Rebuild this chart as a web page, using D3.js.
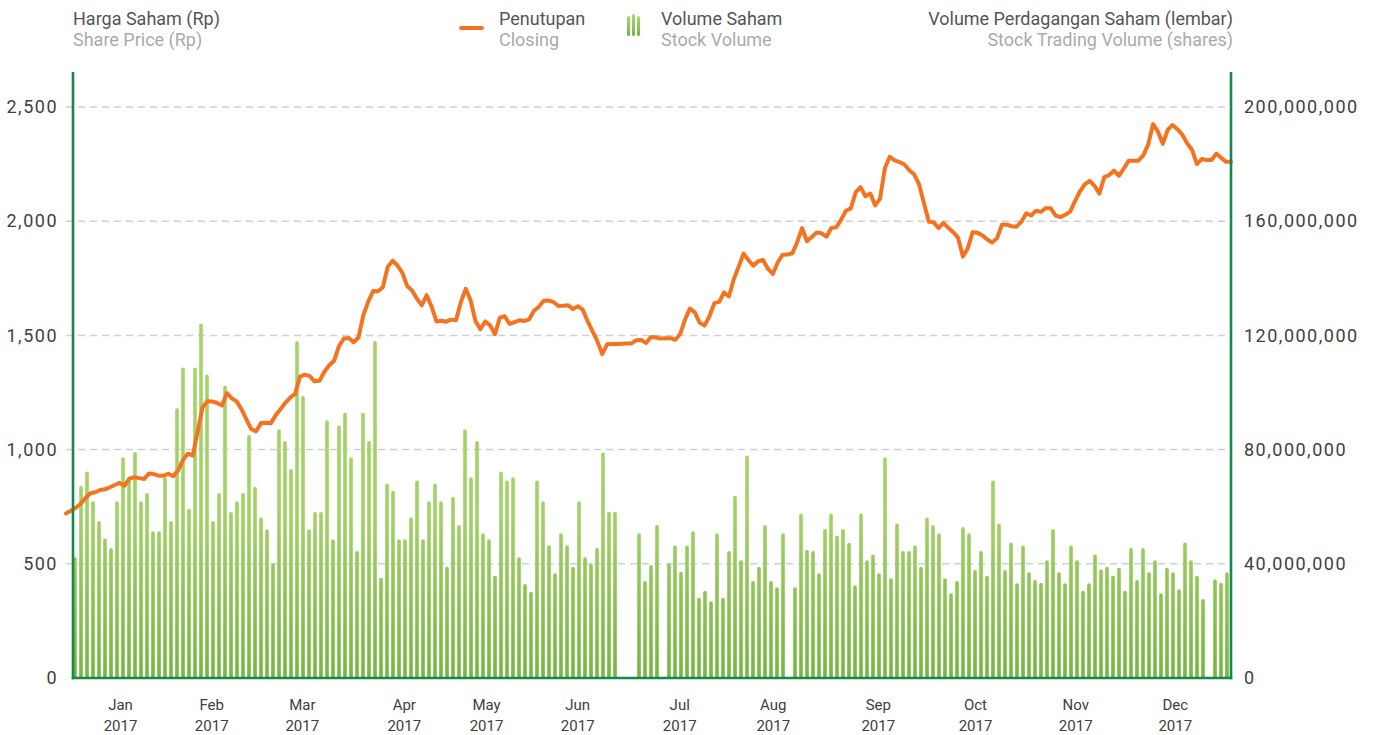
<!DOCTYPE html>
<html><head><meta charset="utf-8">
<script src="https://cdn.jsdelivr.net/npm/d3@7/dist/d3.min.js"></script>
<style>
body{margin:0;background:#fff;}
text{font-family:Roboto,"DejaVu Sans",sans-serif;}
</style>
</head><body>
<svg id="chart" width="1374" height="735"></svg>
<script>
// ---------- DATA ----------
const months = ["Jan","Feb","Mar","Apr","May","Jun","Jul","Aug","Sep","Oct","Nov","Dec"];
const yearLabel = "2017";
// position of each month label, in volume-bar slot units
const monthTickSlot = [7.5,22.7,37.8,54.8,68.5,83.7,100.7,116.3,133.8,150,166.7,183.3];
const priceTicks = [0,500,1000,1500,2000,2500];
const volumeTicks = [0,40000000,80000000,120000000,160000000,200000000];

// Stock volume (millions of shares); null = no trading
const volumeM = [
42.3,67.3,72.3,61.9,55,48.9,45.5,61.9,77.3,70.4,
79.2,61.9,64.8,51.4,51.4,70.4,55,94.5,108.8,59.3,
108.8,124.2,106.3,55,64.8,102.4,58.1,61.9,64.8,85.1,
67,56.2,52.1,40,87.1,83,73.2,118,98.8,52.1,
58.1,58.1,90.3,48.6,88.4,92.9,77.3,44.5,92.9,83,
118,35.1,68.1,65.6,48.6,48.6,56.2,69.2,48.6,61.9,
68.1,61.9,39,63.5,53.6,87.1,70.3,83,50.7,48.6,
35.8,72.3,69.2,70.3,42.3,32.9,30.2,69.2,61.9,46.5,
36.7,50.7,46.5,39,61.9,42.3,40.2,45.5,79,58.2,
58.2,null,null,null,50.7,34,39.6,53.6,null,40.2,
46.4,37.2,46.4,51.4,28.1,30.6,26.9,50.7,28.1,44.5,
63.8,41.2,77.9,34,39,53.6,34,31.8,50.7,null,
31.8,57.6,44.9,44.5,36.7,52.2,57.6,49.9,52.2,47.4,
32.5,57.6,41.2,43.3,36.7,77.3,34.9,54.1,44.5,44.5,
46.4,39,56.2,53.6,50.7,34.9,29.7,34,52.9,50.7,
37.8,44.5,35.8,69.2,54.1,37.8,47.5,33.2,46.4,37,
34.3,33.4,41.2,52.2,37,33.2,46.4,41.2,30.6,33.2,
43.3,38,39,35.8,38.6,30.6,45.5,34.3,45.5,37,
41.2,29.7,38.6,37,31.1,47.5,41.2,35.8,27.7,null,
34.6,33.4,37
];

// Closing price (Rp), daily
const closingPrice = [
720,732,745,763,788,809,813,823,826,835,
845,854,842,873,879,875,871,895,893,886,
886,894,884,909,955,982,974,1078,1184,1212,
1211,1204,1193,1247,1225,1211,1177,1132,1090,1080,
1116,1118,1115,1150,1177,1205,1228,1244,1320,1328,
1322,1299,1301,1341,1369,1389,1453,1486,1489,1470,
1491,1589,1648,1694,1693,1711,1800,1827,1806,1774,
1716,1697,1660,1632,1676,1626,1561,1564,1560,1569,
1566,1645,1704,1654,1563,1527,1561,1544,1505,1578,
1584,1550,1558,1566,1563,1570,1608,1625,1652,1653,
1646,1629,1630,1632,1615,1628,1613,1563,1519,1475,
1418,1461,1462,1462,1463,1464,1465,1479,1480,1467,
1493,1491,1486,1487,1488,1481,1506,1570,1617,1601,
1555,1543,1584,1641,1647,1688,1670,1747,1801,1858,
1830,1805,1825,1830,1792,1769,1819,1853,1854,1859,
1908,1970,1912,1931,1951,1947,1932,1970,1973,2006,
2046,2056,2126,2149,2109,2121,2069,2099,2233,2282,
2266,2259,2248,2223,2205,2162,2080,1998,1995,1970,
1993,1971,1952,1928,1845,1881,1952,1949,1938,1920,
1907,1925,1985,1985,1978,1976,1998,2035,2025,2046,
2041,2057,2057,2025,2018,2028,2042,2088,2130,2161,
2177,2155,2121,2193,2202,2221,2199,2230,2265,2265,
2265,2288,2335,2425,2393,2339,2400,2421,2403,2379,
2341,2313,2250,2272,2268,2268,2296,2277,2260,2260
];

// ---------- CHART ----------
const svg = d3.select("#chart");
const L = 73, R = 1231, T = 72, B = 678;
const green = "#14894b", orange = "#f47321";

const yPrice = d3.scaleLinear().domain([0,2500]).range([B,107]);
const yVol = d3.scaleLinear().domain([0,200000000]).range([B,107]);
const xSlot = d3.scaleLinear().domain([0, volumeM.length-1]).range([75, 1227]);
const xDay = d3.scaleLinear().domain([0, closingPrice.length-1]).range([66, 1231]);

const defs = svg.append("defs");
const grad = defs.append("linearGradient").attr("id","barGrad")
  .attr("gradientUnits","userSpaceOnUse").attr("x1",0).attr("x2",0).attr("y1",107).attr("y2",B);
grad.append("stop").attr("offset","0%").attr("stop-color","#a9d670");
grad.append("stop").attr("offset","72%").attr("stop-color","#a2d165");
grad.append("stop").attr("offset","100%").attr("stop-color","#76b641");
defs.append("clipPath").attr("id","plotClip").append("rect")
  .attr("x",0).attr("y",0).attr("width",1374).attr("height",B);

// grid lines
svg.append("g").selectAll("line").data(priceTicks.filter(d=>d>0)).join("line")
  .attr("x1",66).attr("x2",R).attr("y1",d=>yPrice(d)).attr("y2",d=>yPrice(d))
  .attr("stroke","#cfcfcf").attr("stroke-width",1.5).attr("stroke-dasharray","7,5");

// volume bars
const bw = 3.6;
svg.append("g").attr("clip-path","url(#plotClip)")
  .selectAll("rect").data(volumeM.map((v,i)=>({v,i})).filter(d=>d.v!==null)).join("rect")
  .attr("x",d=>xSlot(d.i)-bw/2).attr("width",bw)
  .attr("y",d=>yVol(d.v*1e6)).attr("height",d=>B+4-yVol(d.v*1e6))
  .attr("rx",bw/2).attr("fill","url(#barGrad)");

// closing line
svg.append("path").datum(closingPrice)
  .attr("fill","none").attr("stroke",orange).attr("stroke-width",4)
  .attr("stroke-linejoin","round").attr("stroke-linecap","round")
  .attr("d", d3.line().x((d,i)=>xDay(i)).y(d=>yPrice(d)));

// axis lines
svg.append("line").attr("x1",L).attr("x2",L).attr("y1",T).attr("y2",B+1.2).attr("stroke",green).attr("stroke-width",2.6);
svg.append("line").attr("x1",R).attr("x2",R).attr("y1",T).attr("y2",B+1.2).attr("stroke",green).attr("stroke-width",2.6);
svg.append("line").attr("x1",L-1.3).attr("x2",R+1.3).attr("y1",B).attr("y2",B).attr("stroke",green).attr("stroke-width",2.6);

// left axis labels
const axL = svg.append("g").attr("transform",`translate(58,0)`)
  .call(d3.axisLeft(yPrice).tickValues(priceTicks).tickSize(0).tickPadding(0).tickFormat(d3.format(",")));
axL.select(".domain").remove();
axL.selectAll("text").attr("fill","#404040").attr("font-size",18).attr("letter-spacing",1.5)
  .attr("font-family","Roboto, sans-serif");

// right axis labels
const axR = svg.append("g").attr("transform",`translate(1244,0)`)
  .call(d3.axisRight(yVol).tickValues(volumeTicks).tickSize(0).tickPadding(0).tickFormat(d3.format(",")));
axR.select(".domain").remove();
axR.selectAll("text").attr("fill","#404040").attr("font-size",18).attr("letter-spacing",1.5)
  .attr("font-family","Roboto, sans-serif");

// bottom month labels
const axB = svg.append("g").attr("transform",`translate(0,${B})`)
  .call(d3.axisBottom(xSlot).tickValues(monthTickSlot).tickSize(0).tickPadding(0).tickFormat((d,i)=>months[i]));
axB.select(".domain").remove();
axB.selectAll("text").attr("fill","#404040").attr("font-size",15).attr("font-family","Roboto, sans-serif")
  .attr("y",27).attr("dy","0.32em");
axB.selectAll(".tick").append("text").text(yearLabel).attr("fill","#404040").attr("font-size",15)
  .attr("font-family","Roboto, sans-serif").attr("text-anchor","middle").attr("y",48).attr("dy","0.32em");

// header titles
const hdr = svg.append("g").attr("font-size",18);
hdr.append("text").attr("x",73).attr("y",25).attr("fill","#555").text("Harga Saham (Rp)");
hdr.append("text").attr("x",73).attr("y",46).attr("fill","#aaa").text("Share Price (Rp)");
hdr.append("text").attr("x",1233).attr("y",25).attr("fill","#555").attr("text-anchor","end").text("Volume Perdagangan Saham (lembar)");
hdr.append("text").attr("x",1233).attr("y",46).attr("fill","#aaa").attr("text-anchor","end").text("Stock Trading Volume (shares)");

// legend
svg.append("line").attr("x1",461).attr("x2",482).attr("y1",28).attr("y2",28)
  .attr("stroke",orange).attr("stroke-width",4).attr("stroke-linecap","round");
hdr.append("text").attr("x",499).attr("y",25).attr("fill","#555").text("Penutupan");
hdr.append("text").attr("x",499).attr("y",46).attr("fill","#aaa").text("Closing");
const lg = defs.append("linearGradient").attr("id","legGrad").attr("x1",0).attr("x2",0).attr("y1",0).attr("y2",1);
lg.append("stop").attr("offset","0%").attr("stop-color","#a9d670");
lg.append("stop").attr("offset","100%").attr("stop-color","#76b641");
svg.append("g").selectAll("rect").data([{dx:0,h:20},{dx:5,h:22},{dx:10,h:20}]).join("rect")
  .attr("x",d=>627+d.dx).attr("y",d=>36-d.h).attr("width",3).attr("height",d=>d.h)
  .attr("rx",1.5).attr("fill","url(#legGrad)");
hdr.append("text").attr("x",661).attr("y",25).attr("fill","#555").text("Volume Saham");
hdr.append("text").attr("x",661).attr("y",46).attr("fill","#aaa").text("Stock Volume");
</script>
</body></html>
